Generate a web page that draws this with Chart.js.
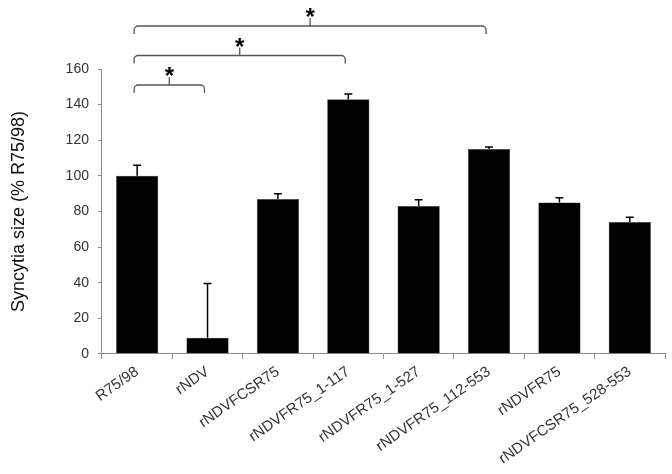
<!DOCTYPE html>
<html>
<head>
<meta charset="utf-8">
<script src="https://cdn.jsdelivr.net/npm/chart.js@4"></script>
<style>
  html, body { margin: 0; padding: 0; background: #fff; }
  #wrap { width: 672px; height: 474px; }
</style>
</head>
<body>
<div id="wrap"><canvas id="c"></canvas></div>
<script>
const labels = ['R75/98', 'rNDV', 'rNDVFCSR75', 'rNDVFR75_1-117', 'rNDVFR75_1-527',
  'rNDVFR75_112-553', 'rNDVFR75', 'rNDVFCSR75_528-553']
const sizes = [100, 9, 87, 143, 83, 115, 85, 74]
const errors = [6, 30.5, 3, 3, 3.5, 1.2, 2.7, 2.7]
const yTicks = [0, 20, 40, 60, 80, 100, 120, 140, 160]
// significance: pairs of bar indices
const sigPairs = [[0, 1], [0, 3], [0, 5]]

const errorBars = {
  id: 'errorBars',
  afterDatasetsDraw (chart) {
    const ctx = chart.ctx
    const meta = chart.getDatasetMeta(0)
    const y = chart.scales.y
    ctx.save()
    ctx.strokeStyle = '#000'
    ctx.lineWidth = 1.5
    meta.data.forEach((bar, i) => {
      const top = y.getPixelForValue(sizes[i] + errors[i])
      ctx.beginPath()
      ctx.moveTo(bar.x, bar.y)
      ctx.lineTo(bar.x, top)
      ctx.moveTo(bar.x - 4, top)
      ctx.lineTo(bar.x + 4, top)
      ctx.stroke()
    })
    ctx.restore()
  }
}

const brackets = {
  id: 'brackets',
  afterDraw (chart) {
    const ctx = chart.ctx
    const x = chart.scales.x
    const area = chart.chartArea
    ctx.save()
    ctx.strokeStyle = '#555'
    ctx.lineWidth = 1.3
    sigPairs.forEach((p, i) => {
      const x1 = x.getPixelForValue(p[0]) - 3
      const x2 = x.getPixelForValue(p[1]) - 3
      const yy = area.top + 16 - i * 29.5
      const r = 4
      const mid = (x1 + x2) / 2
      ctx.beginPath()
      ctx.moveTo(x1, yy + 8)
      ctx.lineTo(x1, yy + r)
      ctx.arcTo(x1, yy, x1 + r, yy, r)
      ctx.lineTo(x2 - r, yy)
      ctx.arcTo(x2, yy, x2, yy + r, r)
      ctx.lineTo(x2, yy + 8)
      ctx.moveTo(mid, yy)
      ctx.lineTo(mid, yy - 8)
      ctx.stroke()
      ctx.fillStyle = '#000'
      ctx.font = 'bold 24px "Liberation Sans", Arial, sans-serif'
      ctx.textAlign = 'center'
      ctx.textBaseline = 'alphabetic'
      ctx.fillText('*', mid, yy - 1)
    })
    ctx.restore()
  }
}

new Chart(document.getElementById('c'), {
  type: 'bar',
  data: {
    labels: labels,
    datasets: [{
      data: sizes,
      backgroundColor: '#000',
      borderColor: '#444',
      borderWidth: 0.5,
      categoryPercentage: 0.6,
      barPercentage: 1
    }]
  },
  options: {
    responsive: true,
    maintainAspectRatio: false,
    animation: false,
    layout: { padding: { top: 69, right: 7, left: 8, bottom: 2 } },
    plugins: {
      legend: { display: false },
      tooltip: { enabled: false }
    },
    scales: {
      y: {
        min: 0,
        max: 160,
        afterBuildTicks: (axis) => { axis.ticks = yTicks.map(v => ({ value: v })) },
        border: { color: '#8a8a8a', width: 1 },
        grid: { display: true, drawOnChartArea: false, color: '#8a8a8a', tickLength: 4 },
        ticks: {
          padding: 9,
          color: '#333',
          font: { family: '"Liberation Sans", Arial, sans-serif', size: 14 }
        },
        title: {
          display: true,
          text: 'Syncytia size (% R75/98)',
          color: '#111',
          padding: { top: 0, bottom: 27 },
          font: { family: '"Liberation Sans", Arial, sans-serif', size: 18 }
        }
      },
      x: {
        border: { color: '#8a8a8a', width: 1 },
        grid: { display: true, drawOnChartArea: false, color: '#8a8a8a', tickLength: 5, offset: true },
        ticks: {
          minRotation: 35,
          maxRotation: 35,
          padding: 4,
          color: '#333',
          font: { family: '"Liberation Sans", Arial, sans-serif', size: 15 }
        }
      }
    }
  },
  plugins: [errorBars, brackets]
})
</script>
</body>
</html>
